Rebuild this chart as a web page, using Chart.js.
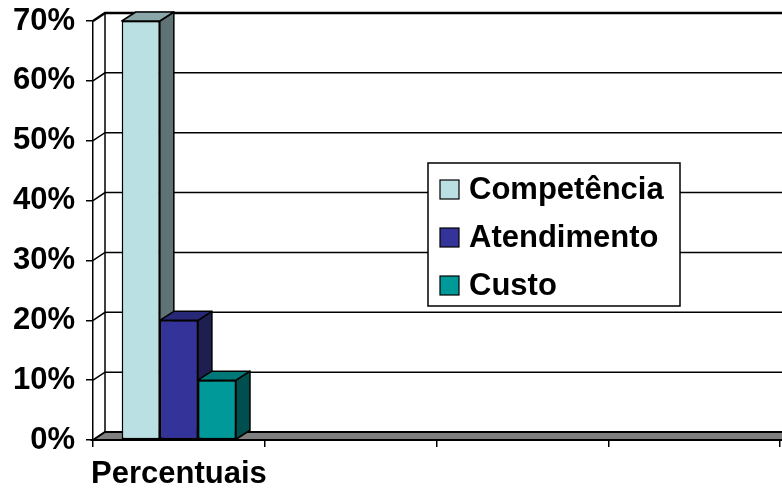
<!DOCTYPE html>
<html>
<head>
<meta charset="utf-8">
<script src="https://cdn.jsdelivr.net/npm/chart.js@4.4.1/dist/chart.umd.min.js"></script>
<style>
  html, body { margin: 0; padding: 0; background: #ffffff; }
  #wrap { width: 782px; height: 488px; position: relative; }
</style>
</head>
<body>
<div id="wrap"><canvas id="c" width="782" height="488"></canvas></div>
<script>
// ---- data ----
const categories = ['Percentuais', '', '', ''];
const seriesNames = ['Competência', 'Atendimento', 'Custo'];
const competencia = [70];
const atendimento = [20];
const custo = [10];
const yTickValues = [0, 10, 20, 30, 40, 50, 60, 70];

// ---- styles ----
const frontColors = ['#BAE0E3', '#333399', '#009999'];
const topColors   = ['#8AA6A8', '#282878', '#007878'];
const sideColors  = ['#5F7374', '#1E1E50', '#004F4F'];
const FONT = { family: '"Liberation Sans", Arial, sans-serif', size: 31, weight: 'bold' };

const threeD = {
  id: 'threeD',
  beforeDatasetsDraw(chart) {
    const { ctx, chartArea: { left, right, top, bottom }, scales: { y } } = chart;
    const DX = 12, DY = -8;
    ctx.save();
    ctx.strokeStyle = '#000';
    y.ticks.forEach((t, i) => {
      const py = y.getPixelForValue(t.value);
      ctx.lineWidth = (i === y.ticks.length - 1) ? 2.5 : 1.5;
      ctx.beginPath();
      ctx.moveTo(left, py);
      ctx.lineTo(left + DX, py + DY);
      ctx.lineTo(chart.width + 5, py + DY);
      ctx.stroke();
    });
    ctx.lineWidth = 1.5;
    ctx.beginPath();
    ctx.moveTo(left + DX, top + DY);
    ctx.lineTo(left + DX, bottom + DY);
    ctx.stroke();
    ctx.fillStyle = '#808080';
    ctx.lineWidth = 2;
    ctx.beginPath();
    ctx.moveTo(left, bottom);
    ctx.lineTo(left + DX, bottom + DY);
    ctx.lineTo(chart.width + 5, bottom + DY);
    ctx.lineTo(chart.width + 5, bottom);
    ctx.closePath();
    ctx.fill();
    ctx.stroke();
    ctx.restore();
  },
  afterDatasetsDraw(chart) {
    const { ctx } = chart;
    const BDX = 14, BDY = -9;
    ctx.save();
    ctx.strokeStyle = '#000';
    ctx.lineWidth = 1.5;
    ctx.lineJoin = 'round';
    chart.data.datasets.forEach((ds, i) => {
      const meta = chart.getDatasetMeta(i);
      meta.data.forEach(el => {
        const p = el.getProps(['x', 'y', 'base', 'width'], true);
        const x1 = p.x - p.width / 2, x2 = p.x + p.width / 2;
        ctx.fillStyle = sideColors[i];
        ctx.beginPath();
        ctx.moveTo(x2, p.y);
        ctx.lineTo(x2 + BDX, p.y + BDY);
        ctx.lineTo(x2 + BDX, p.base + BDY);
        ctx.lineTo(x2, p.base);
        ctx.closePath();
        ctx.fill(); ctx.stroke();
        ctx.fillStyle = topColors[i];
        ctx.beginPath();
        ctx.moveTo(x1, p.y);
        ctx.lineTo(x1 + BDX, p.y + BDY);
        ctx.lineTo(x2 + BDX, p.y + BDY);
        ctx.lineTo(x2, p.y);
        ctx.closePath();
        ctx.fill(); ctx.stroke();
        el.draw(ctx, chart.chartArea);
      });
    });
    ctx.restore();
  },
  afterDraw(chart) {
    const { ctx } = chart;
    const bx = 428, by = 163, bw = 252, bh = 143;
    ctx.save();
    ctx.fillStyle = '#fff';
    ctx.fillRect(bx, by, bw, bh);
    ctx.strokeStyle = '#000';
    ctx.lineWidth = 1.5;
    ctx.strokeRect(bx, by, bw, bh);
    ctx.font = `${FONT.weight} ${FONT.size}px ${FONT.family}`;
    ctx.textBaseline = 'middle';
    ctx.textAlign = 'left';
    chart.data.datasets.forEach((ds, i) => {
      const cy = by + 26 + i * 48;
      ctx.fillStyle = frontColors[i];
      ctx.fillRect(440, cy - 9, 19, 19);
      ctx.lineWidth = 1.2;
      ctx.strokeRect(440, cy - 9, 19, 19);
      ctx.fillStyle = '#000';
      ctx.fillText(ds.label, 469, cy + 1);
    });
    ctx.restore();
  }
};

const seriesValues = [competencia, atendimento, custo];
new Chart(document.getElementById('c'), {
  type: 'bar',
  data: {
    labels: categories,
    datasets: seriesNames.map((name, i) => ({
      label: name,
      data: seriesValues[i],
      backgroundColor: frontColors[i],
      borderColor: '#000',
      borderWidth: 1.5,
      borderSkipped: false,
      categoryPercentage: 0.665,
      barPercentage: 1.0
    }))
  },
  options: {
    responsive: false,
    animation: false,
    devicePixelRatio: 1,
    layout: { padding: { top: 21, right: 2, left: 0, bottom: 0 } },
    plugins: { legend: { display: false }, tooltip: { enabled: false } },
    scales: {
      x: {
        offset: true,
        grid: { display: true, offset: true, drawOnChartArea: false, drawTicks: true, tickLength: 7, color: '#000', lineWidth: 1.5 },
        border: { display: true, color: '#000', width: 2 },
        ticks: { color: '#000', font: FONT, padding: 9, maxRotation: 0, autoSkip: false },
        afterFit(s) { s.height = 48; s.paddingLeft = 0; s.paddingRight = 0; }
      },
      y: {
        min: 0, max: 70,
        afterBuildTicks(s) { s.ticks = yTickValues.map(v => ({ value: v })); },
        grid: { display: true, drawOnChartArea: false, drawTicks: true, tickLength: 7, color: '#000', lineWidth: 1.5 },
        border: { display: true, color: '#000', width: 1.5 },
        ticks: { color: '#000', font: FONT, padding: 11, callback: v => v + '%' },
        afterFit(s) { s.width = 93; s.paddingTop = 0; s.paddingBottom = 0; }
      }
    }
  },
  plugins: [threeD]
});
</script>
</body>
</html>
